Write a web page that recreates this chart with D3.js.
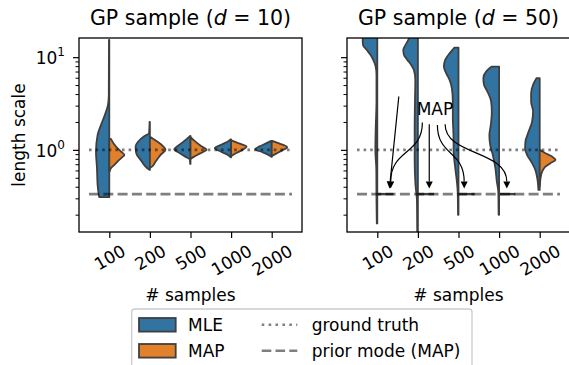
<!DOCTYPE html>
<html><head><meta charset="utf-8">
<script src="https://cdn.jsdelivr.net/npm/d3@7"></script>
<style>body{margin:0;background:#fff}svg{display:block;font-family:"DejaVu Sans",sans-serif}</style>
</head><body><svg id="c" width="569" height="365"></svg>
<script>
// ---------------- data ----------------
const categories = ["100", "200", "500", "1000", "2000"];
const dims = [10, 50];
const groundTruth = 1.0;
const priorMode = 1 / 3;
const yMajorTicks = [1, 10];
const yMinorTicks = [0.2, 0.3, 0.4, 0.5, 0.6, 0.7, 0.8, 0.9, 2, 3, 4, 5, 6, 7, 8, 9];

// violin half profiles: [length scale value, relative half-width]
const mleD10 = [
  [[15.4,0.02],[3.92,0.03],[3.06,0.08],[2.39,0.27],[1.86,0.51],[1.45,0.72],[0.955,0.82],[0.64,0.76],[0.419,0.72],[0.309,0.62]],
  [[2.0,0.02],[1.52,0.05],[1.40,0.35],[1.23,0.72],[1.086,0.88],[0.92,0.84],[0.78,0.57],[0.66,0.27],[0.608,0.03]],
  [[1.415,0.02],[1.28,0.3],[1.13,0.7],[1.01,1.0],[0.93,0.7],[0.84,0.3],[0.79,0.05],[0.706,0.02]],
  [[1.30,0.02],[1.25,0.15],[1.146,0.55],[1.043,1.0],[0.952,0.6],[0.883,0.2],[0.83,0.02]],
  [[1.25,0.03],[1.175,0.35],[1.09,0.75],[1.017,1.0],[0.94,0.55],[0.872,0.15],[0.84,0.02]]
];
const mapD10 = [
  [[1.315,0.1],[1.15,0.3],[1.04,0.51],[0.95,0.75],[0.883,0.93],[0.82,0.75],[0.748,0.51],[0.68,0.28],[0.635,0.1],[0.583,0.02]],
  [[1.38,0.03],[1.23,0.45],[1.10,0.8],[1.0,0.96],[0.883,0.66],[0.748,0.35],[0.66,0.13],[0.64,0.02]],
  [[1.36,0.02],[1.25,0.25],[1.10,0.65],[1.0,0.98],[0.916,0.6],[0.84,0.2],[0.80,0.02]],
  [[1.265,0.02],[1.19,0.4],[1.086,0.95],[1.0,0.7],[0.93,0.35],[0.861,0.02]],
  [[1.25,0.03],[1.175,0.45],[1.069,0.95],[0.988,0.65],[0.916,0.3],[0.861,0.02]]
];
const mleD50 = [
  [[22,0.9],[15.4,0.9],[13.6,0.88],[12.0,0.66],[10.6,0.42],[9.35,0.25],[7.92,0.1],[6.44,0.05],[3.46,0.05],[1.64,0.1],[1.0,0.12],[0.608,0.06],[0.289,0.05],[0.161,0.03]],
  [[22,0.5],[16.1,0.55],[13.6,0.76],[12.0,0.9],[10.6,0.86],[9.35,0.65],[8.25,0.41],[7.3,0.25],[5.7,0.16],[3.46,0.18],[1.64,0.2],[0.78,0.2],[0.42,0.15],[0.289,0.06],[0.13,0.04],[0.1,0.03]],
  [[12.7,0.25],[11.0,0.55],[9.35,0.82],[7.92,0.9],[6.72,0.76],[5.69,0.55],[4.63,0.41],[3.32,0.35],[2.20,0.35],[1.45,0.31],[0.96,0.3],[0.635,0.2],[0.455,0.1],[0.355,0.05],[0.199,0.03]],
  [[7.92,0.45],[6.99,0.8],[5.93,0.97],[5.03,0.93],[4.26,0.72],[3.32,0.49],[2.59,0.45],[1.86,0.51],[1.45,0.6],[1.13,0.55],[0.883,0.39],[0.635,0.23],[0.455,0.14],[0.355,0.05],[0.199,0.03]],
  [[5.93,0.2],[5.03,0.41],[4.09,0.53],[3.32,0.53],[2.59,0.41],[2.02,0.47],[1.575,0.68],[1.23,0.88],[1.04,0.9],[0.883,0.78],[0.719,0.47],[0.608,0.27],[0.515,0.17],[0.455,0.12],[0.37,0.08]]
];
const mapD50 = [
  [[0.3333,1]],
  [[0.3333,1]],
  [[0.3333,1]],
  [[0.3333,1]],
  [[1.0,0.02],[0.92,0.35],[0.847,0.76],[0.78,0.97],[0.719,0.66],[0.66,0.35],[0.583,0.15],[0.495,0.05],[0.409,0.01]]
];
const seriesNames = ["MLE", "MAP"];
const seriesColors = ["#3274a1", "#e1812c"];
const lineNames = ["ground truth", "prior mode (MAP)"];
const annotationLabel = { text: "MAP", x: 1.42, v: 2.75 };
const annotationArrows = [
  { from: [0.53, 3.76], to: [0.30, priorMode], curved: false },
  { from: [1.11, 1.97], to: [0.33, priorMode], curved: true },
  { from: [1.28, 1.89], to: [1.28, priorMode], curved: false },
  { from: [1.48, 1.86], to: [2.14, priorMode], curved: true },
  { from: [1.67, 1.89], to: [3.19, priorMode], curved: true }
];

// ---------------- layout ----------------
const FS = 17, TFS = 20.5;
const EDGE = "#3f3f3f";
const svg = d3.select("#c");
const yTop = 38, yBot = 232;
const panels = [
  { d: dims[0], mle: mleD10, map: mapD10, x0: 79, x1: 302, first: true },
  { d: dims[1], mle: mleD50, map: mapD50, x0: 347, x1: 570, first: false }
];
const y = d3.scaleLog().domain([0.13, 16.1]).range([yBot, yTop]);

panels.forEach((p, pi) => {
  const g = svg.append("g");
  const x = d3.scalePoint().domain(categories).range([p.x0, p.x1]).padding(0.746);
  const step = x.step();
  const halfW = 0.4 * step;
  const xi = d3.scaleLinear().domain([0, categories.length - 1]).range([x(categories[0]), x(categories[categories.length - 1])]);

  const clipId = "clip" + pi;
  svg.append("clipPath").attr("id", clipId).append("rect")
    .attr("x", p.x0).attr("y", yTop).attr("width", p.x1 - p.x0).attr("height", yBot - yTop);
  const plot = g.append("g").attr("clip-path", `url(#${clipId})`);

  const drawHalf = (cx, prof, side, color) => {
    if (prof.length === 1) {
      plot.append("line")
        .attr("x1", cx).attr("x2", cx + side * prof[0][1] * halfW)
        .attr("y1", y(prof[0][0])).attr("y2", y(prof[0][0]))
        .attr("stroke", EDGE).attr("stroke-width", 2.4);
      return;
    }
    const area = d3.area().curve(d3.curveMonotoneY)
      .y(d => y(d[0])).x0(cx).x1(d => cx + side * d[1] * halfW);
    plot.append("path").attr("d", area(prof))
      .attr("fill", color).attr("stroke", EDGE).attr("stroke-width", 1.8)
      .attr("stroke-linejoin", "round");
  };
  categories.forEach((c, i) => {
    drawHalf(x(c), p.mle[i], -1, seriesColors[0]);
    drawHalf(x(c), p.map[i], 1, seriesColors[1]);
  });

  // reference lines
  const lx0 = x(categories[0]) - step / 2, lx1 = x(categories[categories.length - 1]) + step / 2;
  plot.append("line").attr("x1", lx0).attr("x2", lx1).attr("y1", y(groundTruth)).attr("y2", y(groundTruth))
    .attr("stroke", "#000").attr("stroke-opacity", 0.5).attr("stroke-width", 2.6).attr("stroke-dasharray", "2.6 4.0");
  plot.append("line").attr("x1", lx0).attr("x2", lx1).attr("y1", y(priorMode)).attr("y2", y(priorMode))
    .attr("stroke", "#000").attr("stroke-opacity", 0.5).attr("stroke-width", 2.7).attr("stroke-dasharray", "10 4.3");

  // axes
  const yMajor = d3.axisLeft(y).tickValues(yMajorTicks).tickSize(6).tickPadding(8).tickSizeOuter(0);
  const gy = g.append("g").attr("transform", `translate(${p.x0},0)`).call(yMajor);
  const gyMinor = g.append("g").attr("transform", `translate(${p.x0},0)`)
    .call(d3.axisLeft(y).tickValues(yMinorTicks).tickSize(3.5).tickFormat("").tickSizeOuter(0));
  [gy, gyMinor].forEach(a => { a.select(".domain").remove(); a.selectAll("line").attr("stroke", "#000").attr("stroke-width", 1.2); });
  gyMinor.selectAll("line").attr("stroke-width", 1);
  gy.attr("font-size", FS).attr("font-family", "DejaVu Sans");
  gy.selectAll(".tick text").each(function (d) {
    const t = d3.select(this);
    if (!p.first) { t.remove(); return; }
    t.text(null).attr("dy", null).attr("y", 6.3).attr("fill", "#000");
    t.append("tspan").text("10");
    t.append("tspan").attr("dy", -7.5).attr("font-size", 12).text(Math.round(Math.log10(d)));
  });

  const gx = g.append("g").attr("transform", `translate(0,${yBot})`)
    .call(d3.axisBottom(x).tickSize(6).tickSizeOuter(0));
  gx.select(".domain").remove();
  gx.selectAll("line").attr("stroke", "#000").attr("stroke-width", 1.2);
  gx.attr("font-size", FS).attr("font-family", "DejaVu Sans");
  gx.selectAll(".tick text").each(function () {
    const t = d3.select(this).attr("fill", "#000");
    const w = this.getComputedTextLength();
    const cy = 12 + (w * 0.5 + 0.73 * FS * 0.866) / 2;
    t.attr("y", 0).attr("dy", "0.35em").attr("text-anchor", "middle")
      .attr("transform", `translate(0,${cy}) rotate(-30)`);
  });

  // spines
  g.append("rect").attr("x", p.x0).attr("y", yTop).attr("width", p.x1 - p.x0).attr("height", yBot - yTop)
    .attr("fill", "none").attr("stroke", "#000").attr("stroke-width", 1.3);

  // title
  const cxm = (p.x0 + p.x1) / 2;
  const tt = g.append("text").attr("x", cxm).attr("y", 25).attr("text-anchor", "middle").attr("font-size", TFS);
  tt.append("tspan").text("GP sample (");
  tt.append("tspan").attr("font-style", "italic").text("d");
  tt.append("tspan").text(" = " + p.d + ")");

  // x label
  g.append("text").attr("x", cxm).attr("y", 301).attr("text-anchor", "middle").attr("font-size", FS).text("# samples");

  if (p.first) {
    g.append("text").attr("transform", `translate(25,${(yTop + yBot) / 2}) rotate(-90)`)
      .attr("text-anchor", "middle").attr("font-size", FS).text("length scale");
  } else {
    // annotation
    g.append("text").attr("x", xi(annotationLabel.x)).attr("y", y(annotationLabel.v))
      .attr("dy", "0.35em").attr("text-anchor", "middle").attr("font-size", FS).text(annotationLabel.text);
    annotationArrows.forEach(a => {
      const sx = xi(a.from[0]), sy = y(a.from[1]);
      const tx = xi(a.to[0]), ty = y(a.to[1]) - 5.5;
      let dx = 0, dy = 1;
      if (!a.curved) { const L = Math.hypot(tx - sx, ty - sy); dx = (tx - sx) / L; dy = (ty - sy) / L; }
      const hl = 7, hw = 3.5;
      const bx = tx - dx * hl, by = ty - dy * hl;
      let d;
      if (a.curved) {
        const k = 0.55 * (by - sy);
        d = `M${sx},${sy}C${sx},${sy + k} ${bx},${by - k} ${bx},${by}`;
      } else d = `M${sx},${sy}L${bx},${by}`;
      g.append("path").attr("d", d).attr("fill", "none").attr("stroke", "#000").attr("stroke-width", 1.2);
      g.append("path").attr("d", `M${tx},${ty}L${bx - dy * hw},${by + dx * hw}L${bx + dy * hw},${by - dx * hw}Z`)
        .attr("fill", "#000");
    });
  }
});

// legend
const lg = svg.append("g");
lg.append("rect").attr("x", 131.7).attr("y", 309).attr("width", 340.3).attr("height", 70).attr("rx", 3)
  .attr("fill", "#fff").attr("fill-opacity", 0.8).attr("stroke", "#cccccc").attr("stroke-width", 1.3);
const rowY = [324.8, 350.8];
seriesNames.forEach((n, i) => {
  lg.append("rect").attr("x", 139).attr("y", rowY[i] - 6.8).attr("width", 36.7).attr("height", 13.6)
    .attr("fill", seriesColors[i]).attr("stroke", EDGE).attr("stroke-width", 1.8);
  lg.append("text").attr("x", 188).attr("y", rowY[i]).attr("dy", "0.36em").attr("font-size", FS).text(n);
});
lineNames.forEach((n, i) => {
  lg.append("line").attr("x1", 261.7).attr("x2", 297.3).attr("y1", rowY[i]).attr("y2", rowY[i])
    .attr("stroke", "#000").attr("stroke-opacity", 0.5).attr("stroke-width", 2.6)
    .attr("stroke-dasharray", i === 0 ? "2.6 4.3" : "9.6 4.2");
  lg.append("text").attr("x", 311.7).attr("y", rowY[i]).attr("dy", "0.36em").attr("font-size", FS).text(n);
});
</script></body></html>
